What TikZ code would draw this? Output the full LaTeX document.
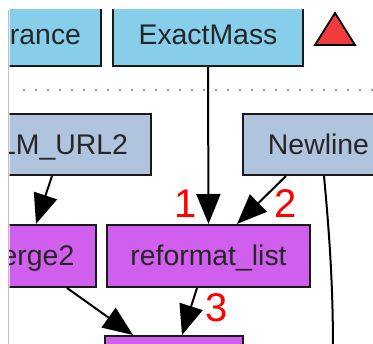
\documentclass[tikz,border=0pt]{standalone}
\usepackage{fontspec}
\setmainfont{Liberation Sans}
\usetikzlibrary{arrows.meta}
\definecolor{skyb}{HTML}{87CEEB}
\definecolor{steelb}{HTML}{B0C4DE}
\definecolor{orchidb}{HTML}{D15FEE}
\definecolor{trired}{HTML}{F03C3C}
\begin{document}
\begin{tikzpicture}[x=1pt,y=-1pt,
  box/.style={draw=black!90, line width=2pt, inner sep=0pt, text height=20pt, text depth=0pt, font=\fontsize{28.4}{32}\selectfont, text=black!85},
  edge/.style={line width=2pt, -{Triangle[length=30pt,width=24pt]}},
  num/.style={text=red, font=\fontsize{40}{44}\selectfont, inner sep=0pt}]
\useasboundingbox (0,0) rectangle (373,344);
\fill[white] (0,0) rectangle (373,344);
\draw[gray!50, line width=1pt] (8.5,10) -- (8.5,344);
\begin{scope}
\clip (9.5,10) rectangle (373,344);
\draw[gray!80, line width=2pt, dash pattern=on 2pt off 10pt] (23,90) -- (373,90);
\node[box, fill=skyb, minimum width=111pt, minimum height=62pt] (tol) at (45.5,35) {rance};
\node[box, fill=skyb, minimum width=190pt, minimum height=62pt] (exact) at (208,35) {ExactMass};
\node[box, fill=steelb, minimum width=174pt, minimum height=61pt] (lmurl) at (64,144.5) {LM\_URL2};
\node[box, fill=steelb, minimum width=151pt, minimum height=61pt] (newline) at (318.5,144.5) {Newline};
\node[box, fill=orchidb, minimum width=116pt, minimum height=62pt] (merge) at (38,256) {erge2};
\node[box, fill=orchidb, minimum width=203pt, minimum height=62pt] (reformat) at (208.5,256) {reformat\_list};
\node[box, fill=orchidb, minimum width=138pt, minimum height=62pt] (out) at (174,367) {};
\coordinate (off) at (333,350);
\draw[edge] (exact.south) -- (reformat.north);
\draw[edge] ([xshift=44pt]newline.south west) -- ([xshift=131pt]reformat.north west);
\draw[edge] ([xshift=76pt]lmurl.south west) -- ([xshift=57pt]merge.north west);
\draw[edge] ([xshift=88pt]merge.south west) -- ([xshift=29pt]out.north west);
\draw[edge] ([xshift=91pt]reformat.south west) -- ([xshift=78pt]out.north west);
\draw[line width=2pt] ([xshift=82pt]newline.south west) .. controls (330,240) and (333,290) .. (off);
\node[num] (n1) at (186,204) {1};
\node[num] (n2) at (286,204) {2};
\node[num] (n3) at (217,308) {3};
\end{scope}
\draw[black, line width=1.8pt, fill=trired] (315,45) -- (355,45) -- (335,13) -- cycle;
\end{tikzpicture}
\end{document}
